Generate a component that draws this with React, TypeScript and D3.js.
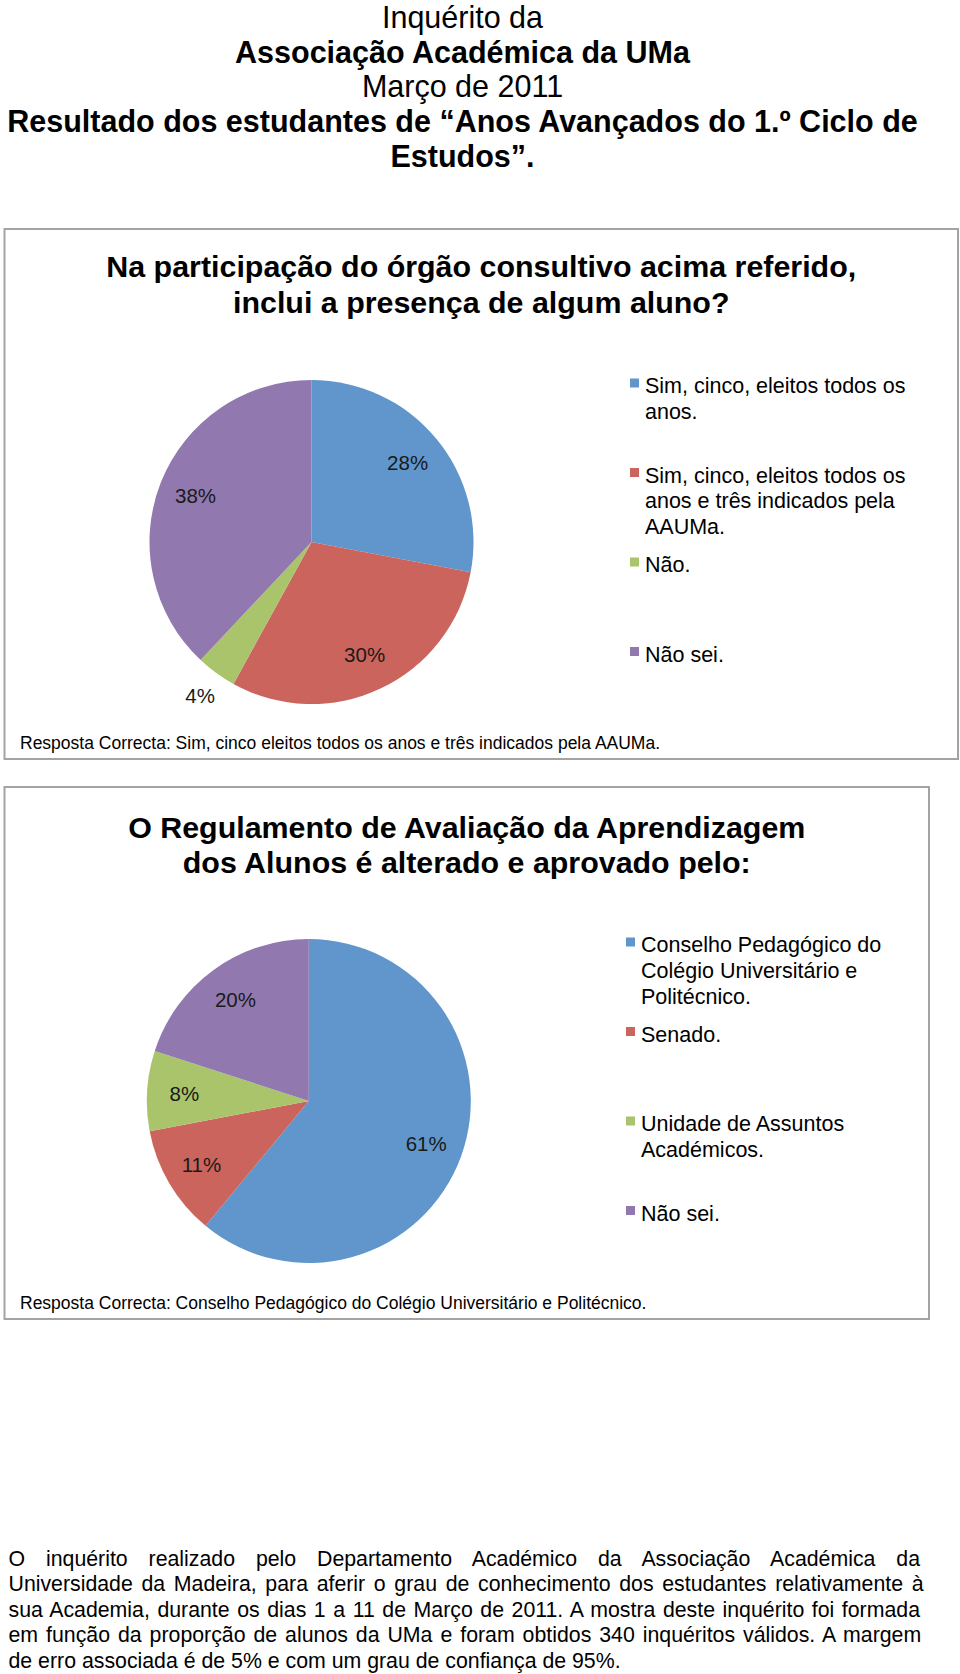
import React, { useMemo } from "react";
import * as d3 from "d3";

const FONT = '"Liberation Sans", Arial, Helvetica, sans-serif';

// ---------- DATA ----------
const headerLines = [
  "Inquérito da",
  "Associação Académica da UMa",
  "Março de 2011",
  "Resultado dos estudantes de “Anos Avançados do 1.º Ciclo de",
  "Estudos”.",
];
const headerBold = [false, true, false, true, true];

const chart1Title = [
  "Na participação do órgão consultivo acima referido,",
  "inclui a presença de algum aluno?",
];
const chart1Categories = [
  "Sim, cinco, eleitos todos os anos.",
  "Sim, cinco, eleitos todos os anos e três indicados pela AAUMa.",
  "Não.",
  "Não sei.",
];
const chart1Values = [28, 30, 4, 38];
const chart1LegendLines = [
  ["Sim, cinco, eleitos todos os", "anos."],
  ["Sim, cinco, eleitos todos os", "anos e três indicados pela", "AAUMa."],
  ["Não."],
  ["Não sei."],
];
const chart1Note =
  "Resposta Correcta: Sim, cinco eleitos todos os anos e três indicados pela AAUMa.";

const chart2Title = [
  "O Regulamento de Avaliação da Aprendizagem",
  "dos Alunos é alterado e aprovado pelo:",
];
const chart2Categories = [
  "Conselho Pedagógico do Colégio Universitário e Politécnico.",
  "Senado.",
  "Unidade de Assuntos Académicos.",
  "Não sei.",
];
const chart2Values = [61, 11, 8, 20];
const chart2LegendLines = [
  ["Conselho Pedagógico do", "Colégio Universitário e", "Politécnico."],
  ["Senado."],
  ["Unidade de Assuntos", "Académicos."],
  ["Não sei."],
];
const chart2Note =
  "Resposta Correcta: Conselho Pedagógico do Colégio Universitário e Politécnico.";

const paragraphLines = [
  "O inquérito realizado pelo Departamento Académico da Associação Académica da",
  "Universidade da Madeira, para aferir o grau de conhecimento dos estudantes relativamente à",
  "sua Academia, durante os dias 1 a 11 de Março de 2011. A mostra deste inquérito foi formada",
  "em função da proporção de alunos da UMa e foram obtidos 340 inquéritos válidos. A margem",
  "de erro associada é de 5% e com um grau de confiança de 95%.",
];

const sliceColors = ["#6096CB", "#CB645D", "#A9C46B", "#9179B0"];

// ---------- LAYOUT ----------
const W = 960;
const H = 1674;

const chart1Layout = {
  box: { x: 4.5, y: 229, w: 953.5, h: 530 },
  titleY: 277,
  titleStep: 36,
  cx: 311.5,
  cy: 542,
  r: 162,
  legendX: 645,
  legendY: 393,
  noteY: 749,
};
const chart2Layout = {
  box: { x: 4.5, y: 787, w: 924.5, h: 532 },
  titleY: 837.5,
  titleStep: 35,
  cx: 308.8,
  cy: 1101,
  r: 162,
  legendX: 641,
  legendY: 952,
  noteY: 1308.5,
};

interface Layout {
  box: { x: number; y: number; w: number; h: number };
  titleY: number;
  titleStep: number;
  cx: number;
  cy: number;
  r: number;
  legendX: number;
  legendY: number;
  noteY: number;
}

function PieChart({
  layout,
  title,
  categories,
  values,
  legendLines,
  note,
}: {
  layout: Layout;
  title: string[];
  categories: string[];
  values: number[];
  legendLines: string[][];
  note: string;
}) {
  const { box, cx, cy, r } = layout;
  const pie = d3
    .pie<number>()
    .sort(null)
    .value((d) => d)
    .startAngle(0)
    .endAngle(2 * Math.PI);
  const arcs = pie(values);
  const arc = d3.arc<d3.PieArcDatum<number>>().innerRadius(0).outerRadius(r);
  const labelIn = d3
    .arc<d3.PieArcDatum<number>>()
    .innerRadius(r * 0.77)
    .outerRadius(r * 0.77);
  const labelOut = d3
    .arc<d3.PieArcDatum<number>>()
    .innerRadius(r * 1.17)
    .outerRadius(r * 1.17);
  const titleCx = box.x + box.w / 2;
  const entryStep = 89.5;
  const lineStep = 25.8;

  return (
    <g>
      <rect
        x={box.x}
        y={box.y}
        width={box.w}
        height={box.h}
        fill="#ffffff"
        stroke="#a3a3a3"
        strokeWidth={2}
      />
      {title.map((t, i) => (
        <text
          key={i}
          x={titleCx}
          y={layout.titleY + i * layout.titleStep}
          textAnchor="middle"
          fontFamily={FONT}
          fontWeight="bold"
          fontSize={30.4}
          fill="#000"
        >
          {t}
        </text>
      ))}
      <g transform={`translate(${cx},${cy})`}>
        {arcs.map((a, i) => (
          <path key={i} d={arc(a) || ""} fill={sliceColors[i]}>
            <title>{categories[i]}</title>
          </path>
        ))}
        {arcs.map((a, i) => {
          const [lx, ly] = (a.data < 5 ? labelOut : labelIn).centroid(a);
          return (
            <text
              key={"l" + i}
              x={lx}
              y={ly}
              dy="0.36em"
              textAnchor="middle"
              fontFamily={FONT}
              fontSize={20.5}
              fill="#1a1a1a"
            >
              {`${a.data}%`}
            </text>
          );
        })}
      </g>
      {legendLines.map((lines, i) => {
        const by = layout.legendY + i * entryStep;
        return (
          <g key={"lg" + i}>
            <rect
              x={layout.legendX - 15}
              y={by - 14.5}
              width={9}
              height={9}
              fill={sliceColors[i]}
            />
            {lines.map((ln, j) => (
              <text
                key={j}
                x={layout.legendX}
                y={by + j * lineStep}
                fontFamily={FONT}
                fontSize={21.5}
                fill="#000"
              >
                {ln}
              </text>
            ))}
          </g>
        );
      })}
      <text
        x={box.x + 15.5}
        y={layout.noteY}
        fontFamily={FONT}
        fontSize={17.5}
        fill="#000"
      >
        {note}
      </text>
    </g>
  );
}

function JustifiedParagraph({
  lines,
  x,
  y0,
  width,
  step,
  fontSize,
}: {
  lines: string[];
  x: number;
  y0: number;
  width: number;
  step: number;
  fontSize: number;
}) {
  const spacings = useMemo(() => {
    const canvas = document.createElement("canvas");
    const ctx = canvas.getContext("2d");
    if (!ctx) return lines.map(() => 0);
    ctx.font = `${fontSize}px "Liberation Sans"`;
    return lines.map((l, i) => {
      if (i === lines.length - 1) return 0;
      const w = ctx.measureText(l).width;
      const n = (l.match(/ /g) || []).length;
      return n ? (width - w) / n : 0;
    });
  }, [lines, fontSize, width]);
  return (
    <g>
      {lines.map((l, i) => (
        <text
          key={i}
          x={x}
          y={y0 + i * step}
          fontFamily={FONT}
          fontSize={fontSize}
          fill="#000"
          style={{ wordSpacing: `${spacings[i]}px`, whiteSpace: "pre" }}
        >
          {l}
        </text>
      ))}
    </g>
  );
}

export default function App() {
  return (
    <svg
      width={W}
      height={H}
      viewBox={`0 0 ${W} ${H}`}
      style={{ position: "absolute", left: 0, top: 0, display: "block", background: "#fff" }}
    >
      <rect x={0} y={0} width={W} height={H} fill="#ffffff" />
      {headerLines.map((t, i) => (
        <text
          key={i}
          x={462.5}
          y={28 + i * 34.7}
          textAnchor="middle"
          fontFamily={FONT}
          fontWeight={headerBold[i] ? "bold" : "normal"}
          fontSize={30.5}
          fill="#000"
        >
          {t}
        </text>
      ))}
      <PieChart
        layout={chart1Layout}
        title={chart1Title}
        categories={chart1Categories}
        values={chart1Values}
        legendLines={chart1LegendLines}
        note={chart1Note}
      />
      <PieChart
        layout={chart2Layout}
        title={chart2Title}
        categories={chart2Categories}
        values={chart2Values}
        legendLines={chart2LegendLines}
        note={chart2Note}
      />
      <JustifiedParagraph
        lines={paragraphLines}
        x={8.5}
        y0={1566}
        width={915}
        step={25.4}
        fontSize={21.3}
      />
    </svg>
  );
}
